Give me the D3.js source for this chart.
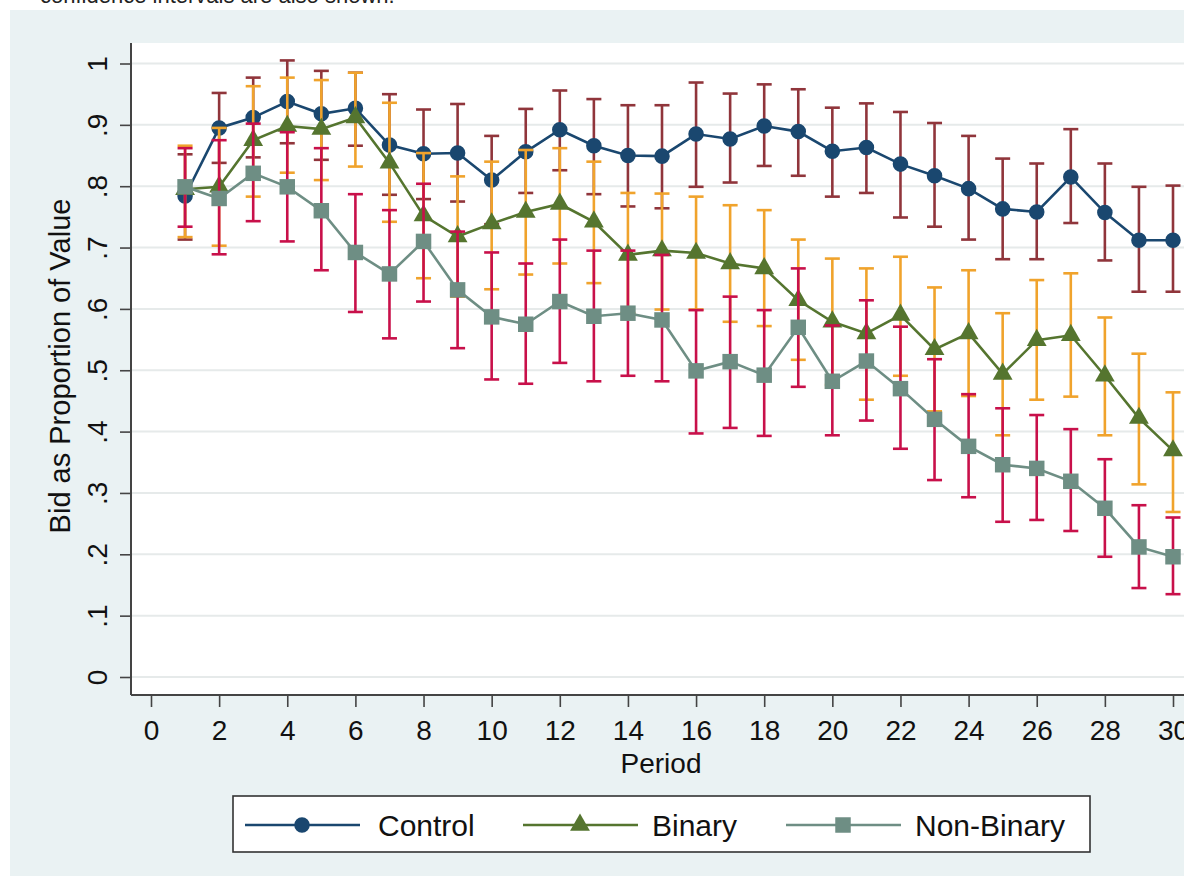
<!DOCTYPE html>
<html>
<head>
<meta charset="utf-8">
<script src="https://cdn.jsdelivr.net/npm/d3@7"></script>
<style>
  html, body { margin: 0; padding: 0; background: #ffffff; }
  svg { display: block; }
  text { font-family: "Liberation Sans", Arial, sans-serif; }
</style>
</head>
<body>
<svg id="chart" width="1184" height="878"></svg>
<script>
// ---------------- data ----------------
const periods = [1,2,3,4,5,6,7,8,9,10,11,12,13,14,15,16,17,18,19,20,21,22,23,24,25,26,27,28,29,30];

const control   = [0.784,0.895,0.912,0.938,0.918,0.927,0.867,0.853,0.854,0.810,0.856,0.892,0.866,0.850,0.849,0.885,0.877,0.898,0.889,0.857,0.863,0.836,0.817,0.796,0.763,0.758,0.815,0.757,0.712,0.712];
const controlLo = [0.713,0.838,0.847,0.870,0.843,0.866,0.786,0.779,0.775,0.738,0.789,0.826,0.787,0.767,0.764,0.799,0.806,0.833,0.817,0.783,0.789,0.749,0.734,0.713,0.681,0.681,0.740,0.679,0.628,0.628];
const controlHi = [0.852,0.952,0.977,1.005,0.988,0.985,0.950,0.925,0.934,0.882,0.926,0.956,0.942,0.932,0.932,0.969,0.951,0.966,0.958,0.928,0.935,0.921,0.903,0.882,0.845,0.837,0.893,0.837,0.799,0.801];

const binary   = [0.795,0.799,0.875,0.898,0.893,0.912,0.838,0.752,0.718,0.739,0.758,0.771,0.742,0.688,0.695,0.691,0.674,0.666,0.614,0.579,0.560,0.590,0.534,0.560,0.494,0.549,0.557,0.491,0.422,0.369];
const binaryLo = [0.717,0.703,0.783,0.822,0.810,0.832,0.742,0.650,0.620,0.632,0.656,0.674,0.642,0.593,0.599,0.599,0.579,0.572,0.517,0.476,0.452,0.491,0.433,0.458,0.394,0.452,0.457,0.394,0.314,0.269];
const binaryHi = [0.866,0.895,0.963,0.977,0.973,0.985,0.936,0.854,0.816,0.840,0.859,0.862,0.840,0.789,0.788,0.783,0.769,0.761,0.713,0.682,0.666,0.685,0.635,0.663,0.593,0.647,0.658,0.586,0.527,0.464];

const nonBinary   = [0.799,0.780,0.821,0.799,0.760,0.692,0.657,0.710,0.631,0.587,0.575,0.612,0.588,0.593,0.582,0.499,0.514,0.492,0.570,0.482,0.515,0.470,0.420,0.376,0.346,0.340,0.319,0.275,0.212,0.196];
const nonBinaryLo = [0.734,0.689,0.743,0.710,0.663,0.595,0.552,0.612,0.536,0.485,0.478,0.512,0.482,0.491,0.482,0.397,0.406,0.393,0.473,0.394,0.418,0.372,0.321,0.293,0.253,0.256,0.238,0.196,0.145,0.135];
const nonBinaryHi = [0.862,0.875,0.902,0.888,0.862,0.787,0.761,0.804,0.726,0.692,0.674,0.713,0.695,0.695,0.688,0.598,0.620,0.598,0.666,0.573,0.614,0.571,0.518,0.461,0.438,0.427,0.404,0.355,0.280,0.260];

const xTicks = [0,2,4,6,8,10,12,14,16,18,20,22,24,26,28,30];
const yTicks = [0,0.1,0.2,0.3,0.4,0.5,0.6,0.7,0.8,0.9,1];
const yTickLabels = ["0",".1",".2",".3",".4",".5",".6",".7",".8",".9","1"];
const seriesNames = ["Control","Binary","Non-Binary"];
const captionText = "confidence intervals are also shown.";
const xTitle = "Period";
const yTitle = "Bid as Proportion of Value";

// ---------------- layout ----------------
const svg = d3.select("#chart");
const W = 1184, H = 878;
const plot = {left: 131, top: 43, right: 1184, bottom: 695};

const x = d3.scaleLinear().domain([0, 30]).range([151, 1173]);
const y = d3.scaleLinear().domain([0, 1]).range([677, 63.5]);

const colors = {
  control: "#1a476f", controlCI: "#90353b",
  binary: "#55752f", binaryCI: "#f0a32c",
  nonBinary: "#6e8e84", nonBinaryCI: "#c8104a"
};

// caption remnant at top
svg.append("text").attr("x", 40).attr("y", 3).attr("font-size", 22).attr("fill", "#222").text(captionText);

// graph region background
svg.append("rect").attr("x", 10).attr("y", 10).attr("width", W - 10).attr("height", 866).attr("fill", "#eaf2f3");
// plot region
svg.append("rect").attr("x", plot.left).attr("y", plot.top).attr("width", plot.right - plot.left).attr("height", plot.bottom - plot.top).attr("fill", "#ffffff");

// gridlines
svg.append("g").selectAll("line").data(yTicks).join("line")
  .attr("x1", plot.left).attr("x2", plot.right)
  .attr("y1", d => y(d)).attr("y2", d => y(d))
  .attr("stroke", "#e6eaea").attr("stroke-width", 2);

// y axis
const yAxis = d3.axisLeft(y).tickValues(yTicks).tickSize(11).tickFormat((d, i) => yTickLabels[i]);
const gy = svg.append("g").attr("transform", `translate(${plot.left},0)`).call(yAxis);
gy.select(".domain").remove();
gy.selectAll(".tick line").attr("stroke", "#444").attr("stroke-width", 1.6);
gy.selectAll(".tick text")
  .attr("x", null).attr("dy", null).attr("y", null)
  .attr("transform", "translate(-24,0) rotate(-90)")
  .attr("text-anchor", "middle").attr("font-size", 28).attr("fill", "#111");
svg.append("line").attr("x1", plot.left).attr("x2", plot.left).attr("y1", plot.top).attr("y2", plot.bottom)
  .attr("stroke", "#444").attr("stroke-width", 2);

// x axis
const xAxis = d3.axisBottom(x).tickValues(xTicks).tickSize(12).tickFormat(d3.format("d"));
const gx = svg.append("g").attr("transform", `translate(0,${plot.bottom})`).call(xAxis);
gx.select(".domain").remove();
gx.selectAll(".tick line").attr("stroke", "#444").attr("stroke-width", 1.6);
gx.selectAll(".tick text").attr("y", 45).attr("dy", null).attr("font-size", 28).attr("fill", "#111");
svg.append("line").attr("x1", plot.left).attr("x2", plot.right).attr("y1", plot.bottom).attr("y2", plot.bottom)
  .attr("stroke", "#444").attr("stroke-width", 2);

// titles
svg.append("text").attr("x", 661).attr("y", 773).attr("text-anchor", "middle").attr("font-size", 28).attr("fill", "#111").text(xTitle);
svg.append("text").attr("transform", "translate(70,366) rotate(-90)").attr("text-anchor", "middle").attr("font-size", 29).attr("fill", "#111").text(yTitle);

// ---------------- series ----------------
const capW = 7.5;
function drawCI(lo, hi, color) {
  const g = svg.append("g").attr("stroke", color).attr("stroke-width", 2.6).attr("fill", "none");
  periods.forEach((p, i) => {
    g.append("line").attr("x1", x(p)).attr("x2", x(p)).attr("y1", y(lo[i])).attr("y2", y(hi[i]));
    g.append("line").attr("x1", x(p) - capW).attr("x2", x(p) + capW).attr("y1", y(lo[i])).attr("y2", y(lo[i]));
    g.append("line").attr("x1", x(p) - capW).attr("x2", x(p) + capW).attr("y1", y(hi[i])).attr("y2", y(hi[i]));
  });
}
const symbols = {
  circle: d3.symbol().type(d3.symbolCircle).size(190),
  triangle: d3.symbol().type(d3.symbolTriangle).size(170),
  square: d3.symbol().type(d3.symbolSquare).size(240)
};
function drawLine(vals, color, sym) {
  const line = d3.line().x((d, i) => x(periods[i])).y(d => y(d));
  svg.append("path").datum(vals).attr("d", line).attr("fill", "none").attr("stroke", color).attr("stroke-width", 2.6);
  svg.append("g").selectAll("path").data(vals).join("path")
    .attr("d", symbols[sym])
    .attr("transform", (d, i) => `translate(${x(periods[i])},${y(d)})`)
    .attr("fill", color);
}

drawCI(controlLo, controlHi, colors.controlCI);
drawLine(control, colors.control, "circle");
drawCI(binaryLo, binaryHi, colors.binaryCI);
drawLine(binary, colors.binary, "triangle");
drawCI(nonBinaryLo, nonBinaryHi, colors.nonBinaryCI);
drawLine(nonBinary, colors.nonBinary, "square");

// ---------------- legend ----------------
const legend = svg.append("g");
legend.append("rect").attr("x", 233).attr("y", 796).attr("width", 857).attr("height", 56)
  .attr("fill", "#ffffff").attr("stroke", "#333").attr("stroke-width", 1.6);
const legItems = [
  {name: seriesNames[0], color: colors.control, sym: "circle", x0: 245, tx: 378},
  {name: seriesNames[1], color: colors.binary, sym: "triangle", x0: 523, tx: 652},
  {name: seriesNames[2], color: colors.nonBinary, sym: "square", x0: 786, tx: 915}
];
legItems.forEach(it => {
  legend.append("line").attr("x1", it.x0).attr("x2", it.x0 + 115).attr("y1", 825).attr("y2", 825)
    .attr("stroke", it.color).attr("stroke-width", 2.6);
  legend.append("path").attr("d", symbols[it.sym]).attr("transform", `translate(${it.x0 + 57},825)`).attr("fill", it.color);
  legend.append("text").attr("x", it.tx).attr("y", 836).attr("font-size", 30).attr("fill", "#111").text(it.name);
});
</script>
</body>
</html>
